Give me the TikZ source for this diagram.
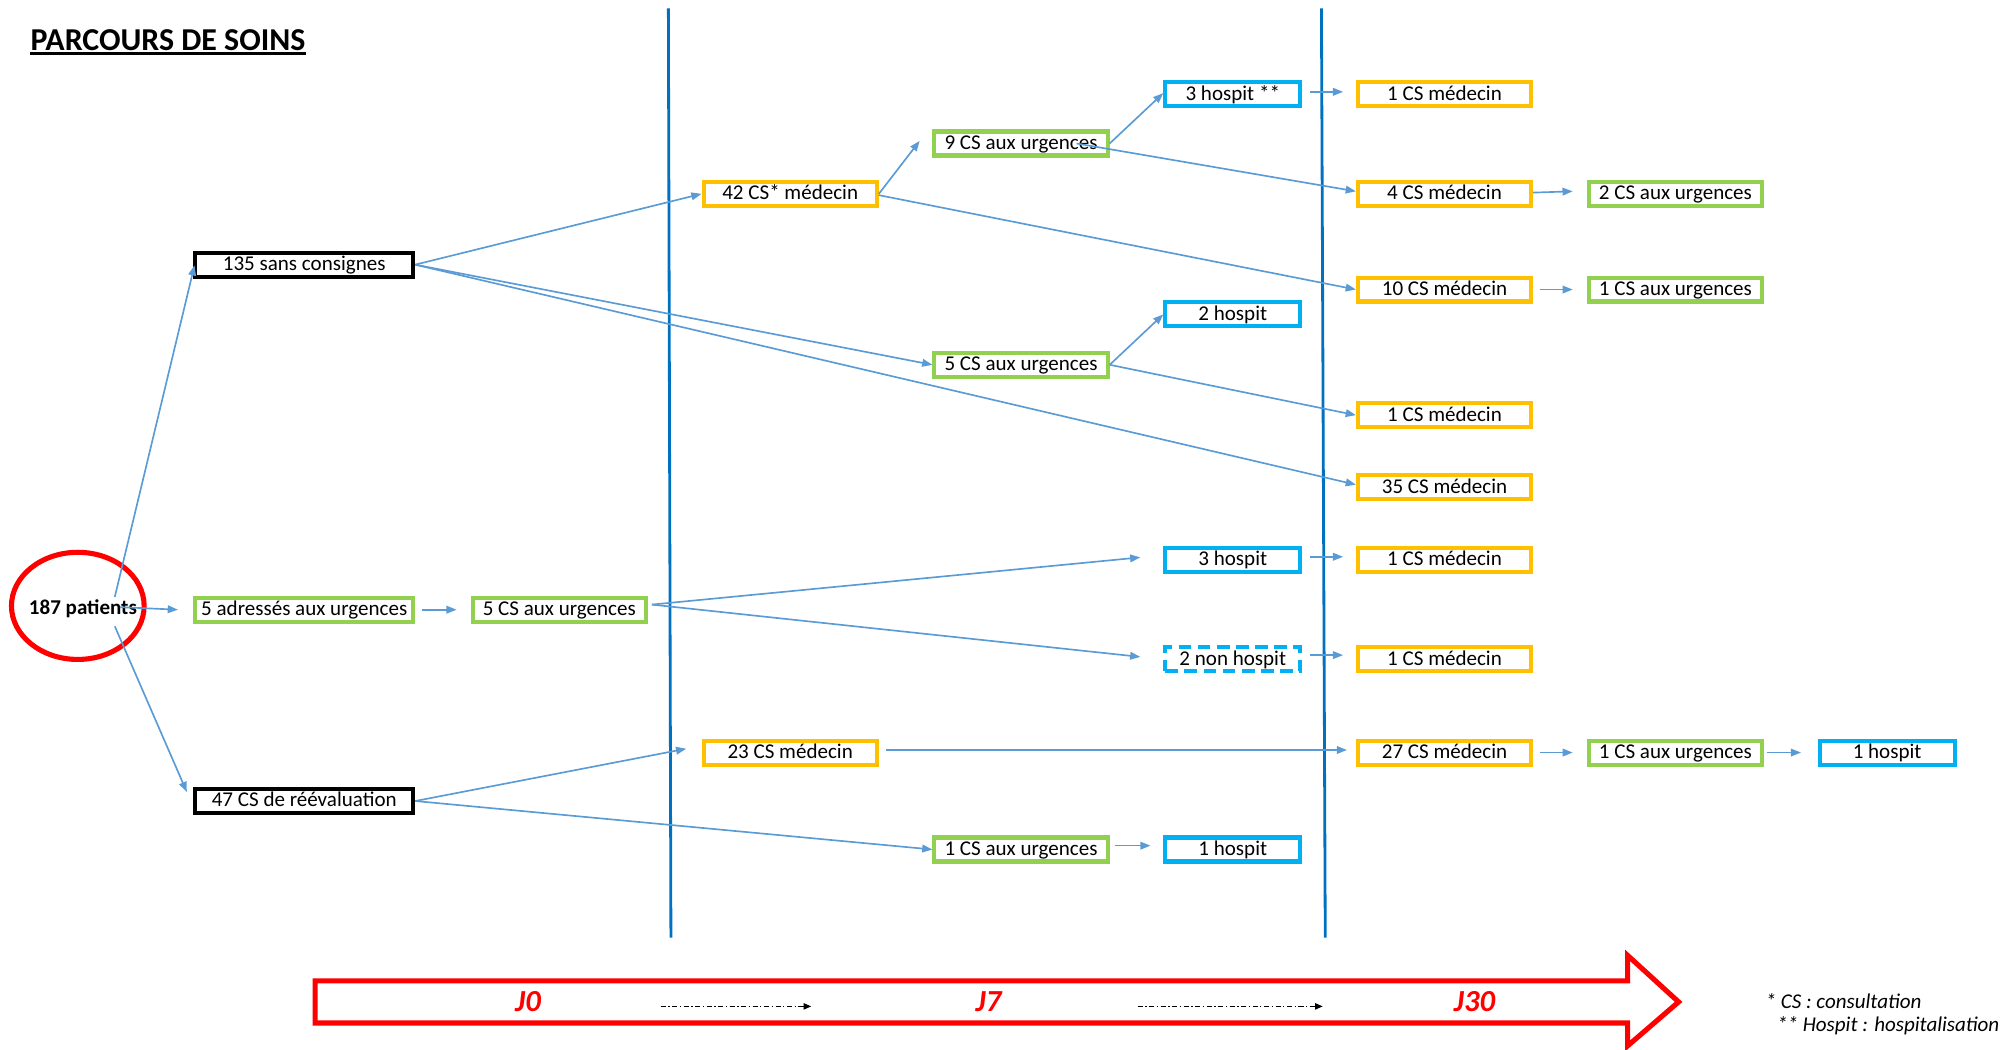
\documentclass[tikz,border=0pt]{standalone}
\usepackage{fontspec}
\setmainfont{Carlito}
\usetikzlibrary{arrows.meta,shapes.geometric,calc}
\definecolor{orng}{HTML}{FFC000}
\definecolor{grn}{HTML}{92D050}
\definecolor{cyn}{HTML}{00B0F0}
\definecolor{edgeblue}{HTML}{5B9BD5}
\definecolor{vblue}{HTML}{0070C0}
\begin{document}
\begin{tikzpicture}[x=1pt,y=-1pt,
  box/.style={draw,line width=3.2pt,minimum height=18.8pt,inner sep=0pt,text height=12.6pt,text depth=3.4pt,font=\fontsize{16.5}{19}\selectfont},
  wA/.style={minimum width=170.8pt},
  wB/.style={minimum width=135.8pt},
  wC/.style={minimum width=105.8pt},
  ob/.style={box,wB,draw=orng},
  gb/.style={box,wB,draw=grn},
  cb/.style={box,wC,draw=cyn},
  edge/.style={draw=edgeblue,line width=1.3pt,-{Triangle[length=8pt,width=6pt]}},
  vline/.style={draw=vblue,line width=2.2pt},
  jlab/.style={text=red,font=\bfseries\itshape\fontsize{24}{28}\selectfont,inner sep=0pt},
  dd/.style={draw=black,line width=1pt,dash pattern=on 4pt off 2pt on 1pt off 2pt,-{Triangle[length=6pt,width=5pt]}},
  fn/.style={anchor=west,inner sep=0pt,font=\itshape\fontsize{16.5}{19}\selectfont}
]
\useasboundingbox (0,0) rectangle (1568,823.2);

% title
\node[anchor=base west,inner sep=0pt,font=\bfseries\fontsize{25}{29}\selectfont] (title) at (23.8,39.5) {PARCOURS DE SOINS};
\draw[line width=1.8pt] ($(title.base west)+(0,2.5)$) -- ($(title.base east)+(0,2.5)$);

% time separators
\draw[vline] (524,6.5) -- (526,735);
\draw[vline] (1036,6.5) -- (1039,735);

% start
\node[ellipse,draw=red,line width=4pt,minimum width=104pt,minimum height=84pt,inner sep=0pt,
  label={[font=\bfseries\fontsize{16.5}{19}\selectfont,text height=12.6pt,text depth=3.4pt,inner sep=0pt,xshift=4pt,yshift=-2pt]center:187 patients}] (pat) at (61,475) {};

% column 1
\node[box,wA,draw=black] (n135) at (238.5,207.5) {135 sans consignes};
\node[box,wA,draw=grn] (n5adr) at (238.5,478) {5 adressés aux urgences};
\node[box,wA,draw=black] (n47) at (238.5,628) {47 CS de réévaluation};
% column 2
\node[gb] (n5cs2) at (438.5,478) {5 CS aux urgences};
% column 3
\node[ob] (n42) at (619.5,152) {42 CS* médecin};
\node[ob] (n23) at (619.5,590) {23 CS médecin};
% column 4
\node[gb] (n9) at (800.5,112.5) {9 CS aux urgences};
\node[gb] (n5cs4) at (800.5,286) {5 CS aux urgences};
\node[gb] (n1u4) at (800.5,666) {1 CS aux urgences};
% column 5
\node[cb] (n3h) at (966.5,74) {3 hospit **};
\node[cb] (n2h) at (966.5,246.5) {2 hospit};
\node[cb] (n3hb) at (966.5,439) {3 hospit};
\node[cb,dash pattern=on 10pt off 5pt] (n2nh) at (966.5,517) {2 non hospit};
\node[cb] (n1h5) at (966.5,666) {1 hospit};
% column 6
\node[ob] (n1a) at (1132.5,74) {1 CS médecin};
\node[ob] (n4) at (1132.5,152) {4 CS médecin};
\node[ob] (n10) at (1132.5,227) {10 CS médecin};
\node[ob] (n1d) at (1132.5,325.5) {1 CS médecin};
\node[ob] (n35) at (1132.5,382) {35 CS médecin};
\node[ob] (n1f) at (1132.5,439) {1 CS médecin};
\node[ob] (n1g) at (1132.5,517) {1 CS médecin};
\node[ob] (n27) at (1132.5,590) {27 CS médecin};
% column 7
\node[gb] (n2u) at (1313.5,152) {2 CS aux urgences};
\node[gb] (n1u) at (1313.5,227) {1 CS aux urgences};
\node[gb] (n1u7) at (1313.5,590) {1 CS aux urgences};
% column 8
\node[cb] (n1h8) at (1479.5,590) {1 hospit};

% connectors
\draw[edge] ($(pat.center)+(29,-7)$) -- ($(n135.west)+(1,0.5)$);
\draw[edge] ($(pat.center)+(33,1)$) -- ($(n5adr.west)+(-12,0)$);
\draw[edge] ($(pat.center)+(29,16)$) -- ($(n47.north west)+(-5,4)$);

\draw[edge] (n135.east) -- (n42.west);
\draw[edge] (n135.east) -- (n5cs4.west);
\draw[edge] (n135.east) -- ($(n35.west)+(0,-2)$);

\draw[edge] ($(n5adr.east)+(5,0)$) -- ($(n5cs2.west)+(-11,0)$);
\draw[edge] ($(n5cs2.east)+(3,-4)$) -- ($(n3hb.west)+(-18,-2)$);
\draw[edge] ($(n5cs2.east)+(3,-4)$) -- ($(n2nh.west)+(-18,-2)$);

\draw[edge] (n47.east) -- ($(n23.west)+(-12,-3)$);
\draw[edge] (n47.east) -- (n1u4.west);

\draw[edge] (n42.east) -- ($(n9.west)+(-10,-2)$);
\draw[edge] ($(n42.east)+(0,1)$) -- (n10.west);

\draw[edge] (n9.east) -- ($(n3h.west)+(0,-1)$);
\draw[edge] ($(n9.east)+(-26,0)$) -- ($(n4.west)+(0,-2)$);

\draw[edge] ($(n3h.east)+(6,-2)$) -- ($(n1a.west)+(-10,-2)$);
\draw[edge] ($(n4.east)+(0,-1)$) -- ($(n2u.west)+(-11,-2)$);
\draw[edge] ($(n10.east)+(5,0)$) -- ($(n1u.west)+(-11,0)$);

\draw[edge] (n5cs4.east) -- (n2h.west);
\draw[edge] (n5cs4.east) -- (n1d.west);

\draw[edge] ($(n3hb.east)+(6,-2.5)$) -- ($(n1f.west)+(-10,-2.5)$);
\draw[edge] ($(n2nh.east)+(6,-3.4)$) -- ($(n1g.west)+(-10,-3.4)$);

\draw[edge] ($(n23.east)+(6,-2)$) -- ($(n27.west)+(-7,-2)$);
\draw[edge] ($(n27.east)+(5,0)$) -- ($(n1u7.west)+(-11,0)$);
\draw[edge] ($(n1u7.east)+(2,0)$) -- ($(n1h8.west)+(-13,0)$);
\draw[edge] ($(n1u4.east)+(4,-3)$) -- ($(n1h5.west)+(-10,-3)$);

% timeline arrow
\draw[red,line width=4pt,line join=miter] (247,769) -- (1276,769) -- (1276,749) -- (1316,785.5) -- (1276,820) -- (1276,802) -- (247,802) -- cycle;
\node[jlab] (j0) at (414,785) {J0};
\node[jlab] (j7) at (775,785) {J7};
\node[jlab] (j30) at (1156,785) {J30};
\coordinate (d1a) at (518,789);
\coordinate (d1b) at (636,789);
\coordinate (d2a) at (892,789);
\coordinate (d2b) at (1037,789);
\draw[dd] (d1a) -- (d1b);
\draw[dd] (d2a) -- (d2b);

% footnotes
\node[fn] (fn1) at (1384,785) {* CS : consultation};
\node[fn] (fn2) at (1393,804) {** Hospit : hospitalisation};
\end{tikzpicture}
\end{document}
